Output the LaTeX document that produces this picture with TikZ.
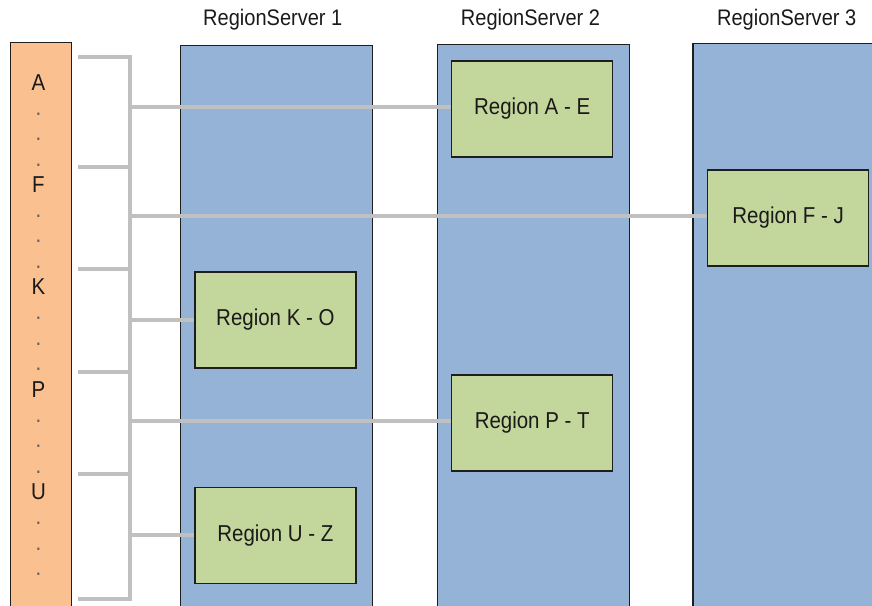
\documentclass[tikz,border=0pt]{standalone}
\usepackage{fontspec}
\setmainfont{Liberation Sans}[FakeStretch=0.89]
\definecolor{keyfill}{HTML}{FAC090}
\definecolor{serverfill}{HTML}{95B3D7}
\definecolor{regionfill}{HTML}{C3D69B}
\definecolor{linkgray}{HTML}{C0C0C0}
\definecolor{edgecol}{HTML}{1E1E1E}
\definecolor{inkcol}{HTML}{1A1A1A}

\pgfdeclarelayer{back}
\pgfdeclarelayer{links}
\pgfsetlayers{back,links,main}

\begin{document}
\begin{tikzpicture}[x=1pt,y=-1pt,
  panel/.style={draw=edgecol, line width=1.3pt, inner sep=0pt, anchor=north west},
  keybar/.style={panel, fill=keyfill, minimum width=61pt, minimum height=600pt},
  server/.style={panel, fill=serverfill, minimum width=192pt, minimum height=600pt},
  region/.style={draw=edgecol, line width=1.3pt, fill=regionfill, inner sep=0pt,
    minimum width=161pt, minimum height=96pt, text=inkcol,
    font=\fontsize{23}{27}\selectfont},
  title/.style={anchor=base, text=inkcol, font=\fontsize{22.5}{27}\selectfont},
  keylabel/.style={anchor=base, inner sep=0pt, text=inkcol, font=\fontsize{23}{27}\selectfont},
  keydot/.style={anchor=base, inner sep=0pt, text=inkcol!70, font=\fontsize{23}{27}\selectfont},
  link/.style={draw=linkgray, line width=4.6pt}
]
\useasboundingbox (0,0) rectangle (872,605);
\clip (0,0) rectangle (872,605);

\begin{pgfonlayer}{back}
% key column
\node[keybar] (keys) at (9.5,41.5) {};
% region servers
\node[server] (rs1) at (180,45) {};
\node[server] (rs2) at (436.5,44) {};
\node[server] (rs3) at (692.3,43) {};
\end{pgfonlayer}

\foreach \k/\y [count=\i] in {A/90, F/192, K/294.5, P/397, U/499.5} {
  \node[keylabel] (key\i) at (38.5,\y) {\k};
  \foreach \d in {1,2,3}
    \node[keydot] (dot\i\d) at (38.5,\y+\d*25.4) {.};
}

\node[title] (t1) at (272.8,25) {RegionServer 1};
\node[title] (t2) at (530.5,25) {RegionServer 2};
\node[title] (t3) at (786.7,25) {RegionServer 3};

% regions
\node[region] (rAE) at (532.2,108.9) {Region A - E};
\node[region] (rFJ) at (788.2,218)   {Region F - J};
\node[region] (rKO) at (275.4,320)   {Region K - O};
\node[region] (rPT) at (532.2,423)   {Region P - T};
\node[region] (rUZ) at (275.4,535.3) {Region U - Z};

% bracket joints
\foreach \y [count=\i] in {57, 167, 269, 372, 474, 599} {
  \coordinate (s\i) at (78,\y);
  \coordinate (j\i) at (130,\y);
}
\foreach \y [count=\i] in {107, 216, 320, 421, 535}
  \coordinate (o\i) at (130,\y);

% key ranges and their links to the regions
\begin{pgfonlayer}{links}
\path[link] (s1) -- (j1) -- (j6) -- (s6);
\foreach \i in {2,...,5}
  \path[link] (s\i) -- (j\i);
\foreach \i/\r in {1/rAE, 2/rFJ, 3/rKO, 4/rPT, 5/rUZ}
  \path[link] (o\i) -- (o\i -| \r.west);
\end{pgfonlayer}
\end{tikzpicture}
\end{document}
